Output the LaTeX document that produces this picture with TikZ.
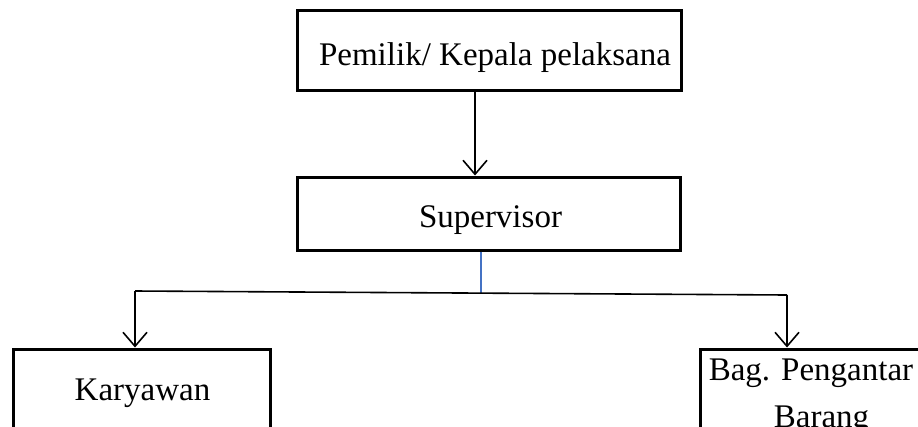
\documentclass[tikz,border=0pt]{standalone}
\usepackage{fontspec}
\setmainfont{Liberation Serif}
\usetikzlibrary{arrows.meta}
\begin{document}
\begin{tikzpicture}[x=1pt,y=-1pt,
  box/.style={draw=black,line width=3pt,inner sep=0pt},
  txt/.style={inner sep=0pt,anchor=base,font=\fontsize{33}{47}\selectfont},
  conn/.style={line width=1.6pt,-{Straight Barb[length=14pt,width=24pt,line width=1.6pt]}},
  bline/.style={line width=1.6pt}]
\useasboundingbox (0,0) rectangle (918,426);
\clip (0,0) rectangle (918,426);
% boxes
\node[box,minimum width=384pt,minimum height=80pt] (top) at (489,50) {};
\node[box,minimum width=383pt,minimum height=73pt] (sup) at (488.5,213.5) {};
\node[box,minimum width=257pt,minimum height=82pt] (kar) at (141.5,390) {};
\node[box,minimum width=222pt,minimum height=82pt] (bag) at (811,390) {};
% texts
\node[txt] (ttop) at (495,65) {Pemilik/ Kepala pelaksana};
\node[txt] (tsup) at (490.5,227) {Supervisor};
\node[txt] (tkar) at (142.5,400) {Karyawan};
\node[txt] (tbag1) at (811,380) {Bag. Pengantar};
\node[txt] (tbag2) at (821.5,427) {Barang};
% connectors
\coordinate (jl) at (135,291);
\coordinate (jr) at (787,295);
\coordinate (jm) at (481,293);
\draw[conn] ([xshift=-14pt]top.south) -- ([xshift=-13.5pt]sup.north);
\draw[color={rgb,255:red,68;green,114;blue,196},line width=1.5pt] ([xshift=-7.5pt]sup.south) -- (jm);
\draw[bline] (jl) -- (jr);
\draw[conn] (jl) -- (jl |- kar.north);
\draw[conn] (jr) -- (jr |- bag.north);
\end{tikzpicture}
\end{document}
